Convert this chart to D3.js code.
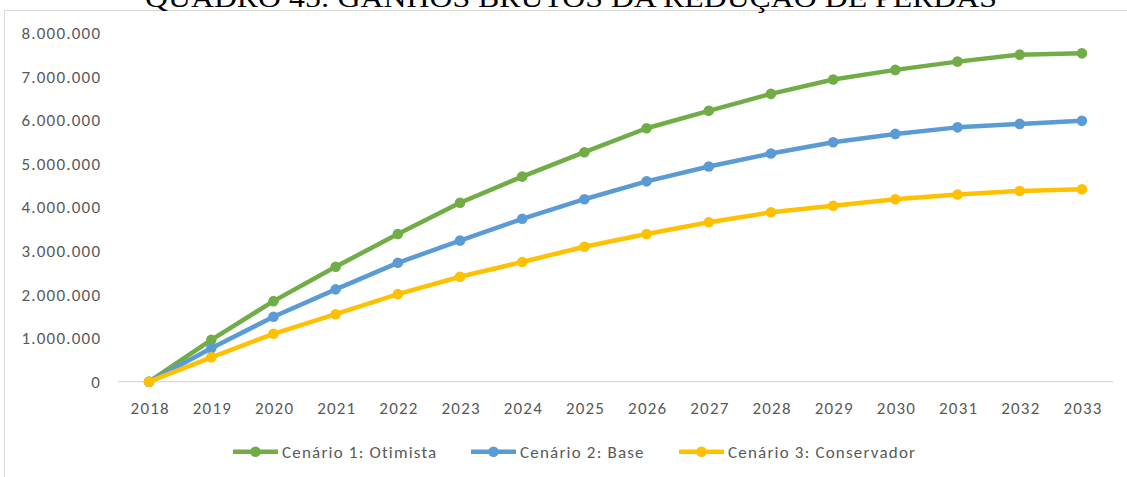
<!DOCTYPE html>
<html><head><meta charset="utf-8">
<script src="https://cdn.jsdelivr.net/npm/d3@7"></script>
<style>body{margin:0;background:#fff;}svg{display:block;}</style>
</head><body>
<svg id="c" width="1127" height="477"></svg>
<script>
const title = "QUADRO 45: GANHOS BRUTOS DA REDUÇÃO DE PERDAS";
const years = ["2018","2019","2020","2021","2022","2023","2024","2025","2026","2027","2028","2029","2030","2031","2032","2033"];
const otimista = [0,960000,1850000,2640000,3390000,4110000,4710000,5270000,5820000,6220000,6610000,6940000,7160000,7350000,7510000,7540000];
const base = [0,770000,1490000,2120000,2730000,3240000,3740000,4190000,4600000,4940000,5240000,5500000,5690000,5840000,5920000,5990000];
const conservador = [0,560000,1100000,1550000,2010000,2410000,2750000,3100000,3390000,3660000,3890000,4040000,4190000,4300000,4380000,4420000];
const seriesNames = ["Cenário 1: Otimista","Cenário 2: Base","Cenário 3: Conservador"];
const seriesColors = ["#70AD47","#5B9BD5","#FFC000"];
const yTicks = [0,1000000,2000000,3000000,4000000,5000000,6000000,7000000,8000000];

const series = [otimista, base, conservador];
const svg = d3.select("#c");
const font = "Carlito, Lato, 'Liberation Sans', sans-serif";
const txt = "#595959";
const ls = 1.2;

// chart frame
svg.append("rect").attr("x",4.5).attr("y",10.5).attr("width",1140).attr("height",480)
  .attr("fill","none").attr("stroke","#d9d9d9").attr("stroke-width",1);

// title (clipped at top)
svg.append("text").attr("x",571).attr("y",7)
  .attr("text-anchor","middle").attr("font-family","'Liberation Serif','Times New Roman',serif")
  .attr("font-size",27).attr("fill","#000")
  .attr("textLength",852).attr("lengthAdjust","spacingAndGlyphs")
  .text(title);

const x = d3.scalePoint().domain(years).range([118,1113]).padding(0.5);
const y = d3.scaleLinear().domain([0,8000000]).range([381.7,33.3]);

const fmt = v => d3.format(",")(v).replace(/,/g,".");

// y axis labels
const yAxis = d3.axisLeft(y).tickValues(yTicks).tickFormat(fmt).tickSize(0).tickPadding(0);
const gy = svg.append("g").attr("transform","translate(" + (100 + ls) + ",0)").call(yAxis);
gy.select(".domain").remove();
gy.selectAll("text").attr("font-family",font).attr("font-size",17).attr("fill",txt)
  .attr("letter-spacing",ls);

// x axis
const xAxis = d3.axisBottom(x).tickSize(0).tickPadding(0);
const gx = svg.append("g").attr("transform","translate(0,381.7)").call(xAxis);
gx.select(".domain").attr("stroke","#d9d9d9").attr("stroke-width",1.3)
  .attr("d","M118,0H1113");
gx.selectAll("text").attr("font-family",font).attr("font-size",17).attr("fill",txt)
  .attr("letter-spacing",ls).attr("dx",ls/2)
  .attr("dy",null).attr("y",32);

// lines
const line = d3.line().x((d,i)=>x(years[i])).y(d=>y(d));
series.forEach((s,k)=>{
  const g = svg.append("g");
  g.append("path").datum(s).attr("d",line).attr("fill","none")
    .attr("stroke",seriesColors[k]).attr("stroke-width",4.5).attr("stroke-linejoin","round").attr("stroke-linecap","round");
  g.selectAll("circle").data(s).enter().append("circle")
    .attr("cx",(d,i)=>x(years[i])).attr("cy",d=>y(d)).attr("r",5.3).attr("fill",seriesColors[k]);
});

// legend
const legX = [233,471,679];
const ly = 451.7;
seriesNames.forEach((n,k)=>{
  const g = svg.append("g");
  g.append("line").attr("x1",legX[k]).attr("x2",legX[k]+45).attr("y1",ly).attr("y2",ly)
    .attr("stroke",seriesColors[k]).attr("stroke-width",4.5);
  g.append("circle").attr("cx",legX[k]+22.5).attr("cy",ly).attr("r",5.3).attr("fill",seriesColors[k]);
  g.append("text").attr("x",legX[k]+49).attr("y",ly).attr("dy","0.35em")
    .attr("font-family",font).attr("font-size",17).attr("fill",txt)
    .attr("letter-spacing",ls).text(n);
});
</script>
</body></html>
